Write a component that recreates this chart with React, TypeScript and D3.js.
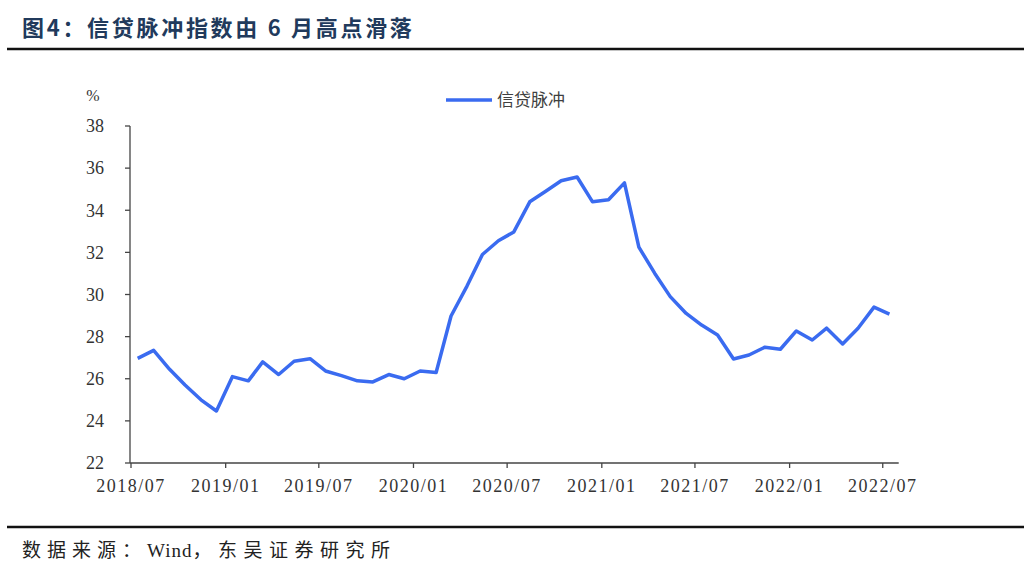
import React from 'react';
import * as d3 from 'd3';

// monthly series, 2018/07 .. 2022/07
const months = d3.timeMonths(new Date(2018, 6, 1), new Date(2022, 7, 1));
const creditImpulse = [
  26.97, 27.35, 26.45, 25.7, 25.0, 24.47,
  26.1, 25.9, 26.8, 26.2, 26.83, 26.95,
  26.37, 26.15, 25.9, 25.85, 26.2, 26.0,
  26.37, 26.3, 28.98, 30.4, 31.9, 32.55,
  32.97, 34.4, 34.9, 35.4, 35.58, 34.4,
  34.5, 35.3, 32.25, 31.0, 29.9, 29.1,
  28.55, 28.08, 26.94, 27.13, 27.5, 27.4,
  28.27, 27.84, 28.4, 27.65, 28.4, 29.4,
  29.07,
];
const yTicks = [22, 24, 26, 28, 30, 32, 34, 36, 38];
const xTickLabels = ['2018/07', '2019/01', '2019/07', '2020/01', '2020/07', '2021/01', '2021/07', '2022/01', '2022/07'];
const seriesName = '信贷脉冲';

const W = 1024;
const H = 575;
const LINE_COLOR = '#3a6bf0';
const TEXT = '#333';
const axisFont = '"Liberation Serif", "DejaVu Serif", serif';
const cjkFont = '"Noto Sans CJK SC", sans-serif';

const App: React.FC = () => {
  const x = d3.scaleTime()
    .domain([new Date(2018, 6, 1), new Date(2022, 7, 1)])
    .range([131, 898.7]);
  const y = d3.scaleLinear().domain([22, 38]).range([463, 126]);

  const points = months.map((m, i) => ({ date: new Date(m.getFullYear(), m.getMonth(), 14), value: creditImpulse[i] }));
  const line = d3.line<{ date: Date; value: number }>()
    .x(d => x(d.date))
    .y(d => y(d.value));

  const xTicks = xTickLabels.map(s => {
    const [yy, mm] = s.split('/').map(Number);
    return { label: s, pos: x(new Date(yy, mm - 1, 1)) };
  });

  return (
    <svg width={W} height={H} style={{ position: 'absolute', left: 0, top: 0, background: '#fff' }}>
      {/* title */}
      <text x={22} y={36} fontFamily={cjkFont} fontWeight={700} fontSize={22} letterSpacing={2.7} fill="#213a5c">
        图4：信贷脉冲指数由 6 月高点滑落
      </text>
      <line x1={7} x2={W} y1={49} y2={49} stroke="#111" strokeWidth={2.5} />

      {/* y axis */}
      <line x1={130} x2={130} y1={y(38)} y2={y(22)} stroke="#444" strokeWidth={1.3} />
      {yTicks.map(t => (
        <g key={t}>
          <line x1={125} x2={130} y1={y(t)} y2={y(t)} stroke="#444" strokeWidth={1.3} />
          <text x={104} y={y(t)} dy="0.35em" textAnchor="end" fontFamily={axisFont} fontSize={18} fill={TEXT}>{t}</text>
        </g>
      ))}
      <text x={93} y={101} textAnchor="middle" fontFamily={axisFont} fontSize={16} fill={TEXT}>%</text>

      {/* x axis */}
      <line x1={130} x2={898.7} y1={y(22)} y2={y(22)} stroke="#444" strokeWidth={1.3} />
      {xTicks.map(t => (
        <g key={t.label}>
          <line x1={t.pos} x2={t.pos} y1={y(22)} y2={y(22) + 5} stroke="#444" strokeWidth={1.3} />
          <text x={t.pos} y={492} textAnchor="middle" fontFamily={axisFont} fontSize={18} letterSpacing={1.5} fill={TEXT}>{t.label}</text>
        </g>
      ))}

      {/* series */}
      <path d={line(points) ?? ''} fill="none" stroke={LINE_COLOR} strokeWidth={3.5} strokeLinejoin="round" />

      {/* legend */}
      <line x1={446} x2={492} y1={100} y2={100} stroke={LINE_COLOR} strokeWidth={3.5} />
      <text x={497} y={100} dy="0.35em" fontFamily={cjkFont} fontSize={17} fill="#404040">{seriesName}</text>

      {/* footer */}
      <line x1={7} x2={W} y1={527} y2={527} stroke="#111" strokeWidth={2.5} />
      <text x={22} y={557} fontFamily={`"Liberation Serif", ${cjkFont}`} fontSize={19} fill="#222">
        <tspan letterSpacing={6}>数据来源：</tspan>
        <tspan letterSpacing={1}>Wind</tspan>
        <tspan letterSpacing={6.5}>，东吴证券研究所</tspan>
      </text>
    </svg>
  );
};

export default App;
